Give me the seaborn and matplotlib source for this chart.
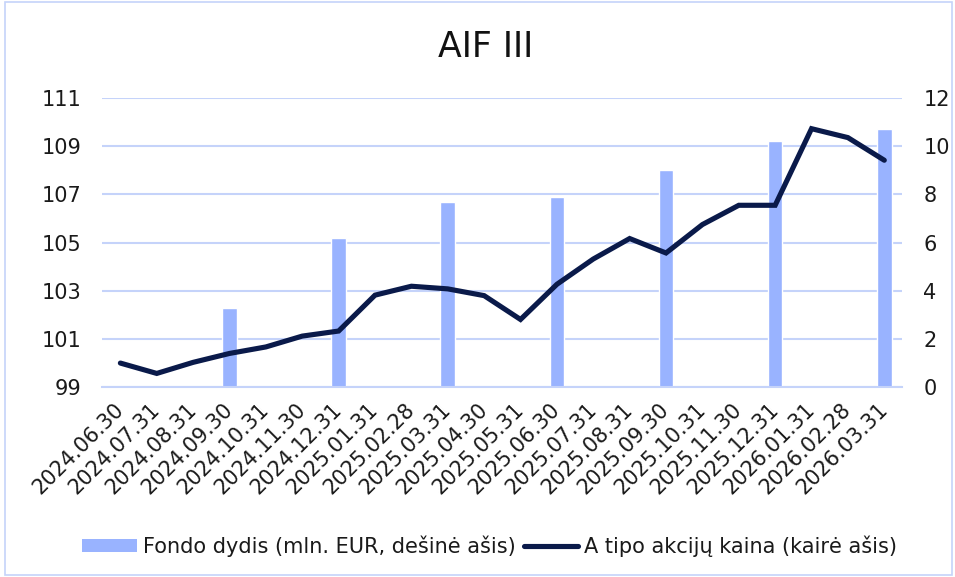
import numpy as np
import pandas as pd
import matplotlib
matplotlib.use("Agg")
import matplotlib.pyplot as plt
import seaborn as sns
from matplotlib.patches import Patch, Rectangle
from matplotlib.lines import Line2D
from matplotlib.transforms import ScaledTranslation

dates = ["2024.06.30", "2024.07.31", "2024.08.31", "2024.09.30", "2024.10.31", "2024.11.30",
         "2024.12.31", "2025.01.31", "2025.02.28", "2025.03.31", "2025.04.30", "2025.05.31",
         "2025.06.30", "2025.07.31", "2025.08.31", "2025.09.30", "2025.10.31", "2025.11.30",
         "2025.12.31", "2026.01.31", "2026.02.28", "2026.03.31"]
price = [100.0, 99.57, 100.03, 100.4, 100.67, 101.12, 101.33, 102.82, 103.19, 103.08, 102.8,
         101.81, 103.27, 104.32, 105.17, 104.57, 105.75, 106.55, 106.55, 109.73, 109.36, 108.42]
fund_size = [np.nan, np.nan, np.nan, 3.3, np.nan, np.nan, 6.2, np.nan, np.nan, 7.7, np.nan, np.nan,
             7.9, np.nan, np.nan, 9.0, np.nan, np.nan, 10.2, np.nan, np.nan, 10.7]
left_ticks = [99, 101, 103, 105, 107, 109, 111]
right_ticks = [0, 2, 4, 6, 8, 10, 12]

bar_label = "Fondo dydis (mln. EUR, dešinė ašis)"
line_label = "A tipo akcijų kaina (kairė ašis)"
bar_color = "#99B3FF"
line_color = "#0A1A4A"
grid_color = "#C5D3FA"
text_color = "#1a1a1a"

df = pd.DataFrame({"date": dates, "price": price, "size": fund_size, "pos": range(len(dates))})

sns.set_style("white")
plt.rcParams["font.family"] = ["DejaVu Sans"]

fig = plt.figure(figsize=(9.55, 5.77), dpi=100)
ax = fig.add_axes([0.107, 0.329, 0.838, 0.501])
ax2 = ax.twinx()

# line on the left scale, bars on the right scale; line axes drawn on top
sns.barplot(data=df, x="date", y="size", order=dates, color=bar_color, width=0.4,
            saturation=1, ax=ax2, zorder=2)
sns.lineplot(data=df, x="pos", y="price", color=line_color, linewidth=3.7, ax=ax,
             solid_capstyle="round", solid_joinstyle="miter")
ax.set_zorder(ax2.get_zorder() + 1)
ax.patch.set_visible(False)
ax.set_xlim(-0.5, len(dates) - 0.5)

ax.set_ylim(99, 111)
ax.set_yticks(left_ticks)
ax2.set_ylim(0, 12)
ax2.set_yticks(right_ticks)

for a in (ax, ax2):
    a.set_xlabel("")
    a.set_ylabel("")
    for s in a.spines.values():
        s.set_visible(False)
    a.tick_params(axis="y", length=0, labelsize=15, labelcolor=text_color, pad=15)
ax2.tick_params(axis="y", labelright=True, labelleft=False)

ax2.yaxis.grid(True, color=grid_color, linewidth=1.5, zorder=0)
ax2.set_axisbelow(True)
ax.spines["bottom"].set_visible(True)
ax.spines["bottom"].set_color(grid_color)
ax.spines["bottom"].set_linewidth(1.5)

ax.set_xticks(range(len(dates)))
ax.set_xticklabels(dates, rotation=45, ha="right", va="center", rotation_mode="anchor",
                   fontsize=15, color=text_color)
ax.tick_params(axis="x", which="major", length=0, pad=14)
ax.set_xticks(np.arange(-0.5, len(dates), 1), minor=True)
ax.tick_params(axis="x", which="minor", length=6, width=1.5, color=grid_color)

fig.text(0.508, 0.918, "AIF III", ha="center", va="center", fontsize=25, color="#111111")

handles = [Patch(facecolor=bar_color, edgecolor="none", label=bar_label),
           Line2D([0], [0], color=line_color, linewidth=3.7, label=line_label)]
fig.legend(handles=handles, loc="center", bbox_to_anchor=(0.513, 0.054), ncol=2, frameon=False,
           fontsize=15, handlelength=2.6, handleheight=0.6, handletextpad=0.3,
           columnspacing=0.4, labelcolor=text_color)

fig.patches.append(Rectangle((0.005, 0.003), 0.992, 0.994, transform=fig.transFigure,
                             fill=False, edgecolor=grid_color, linewidth=1.2))

# make sure the right hand labels sit ~20px right of the plot area
fig.canvas.draw()
renderer = fig.canvas.get_renderer()
right_edge = ax2.get_window_extent(renderer).x1
lbls = [t.label2 for t in ax2.yaxis.get_major_ticks() if t.label2.get_visible() and t.label2.get_text()]
x0 = min(l.get_window_extent(renderer).x0 for l in lbls)
shift = (right_edge + 20) - x0
if abs(shift) > 1:
    off = ScaledTranslation(shift / fig.dpi, 0, fig.dpi_scale_trans)
    for l in lbls:
        l.set_transform(l.get_transform() + off)

fig.savefig("out.png", dpi=100)
